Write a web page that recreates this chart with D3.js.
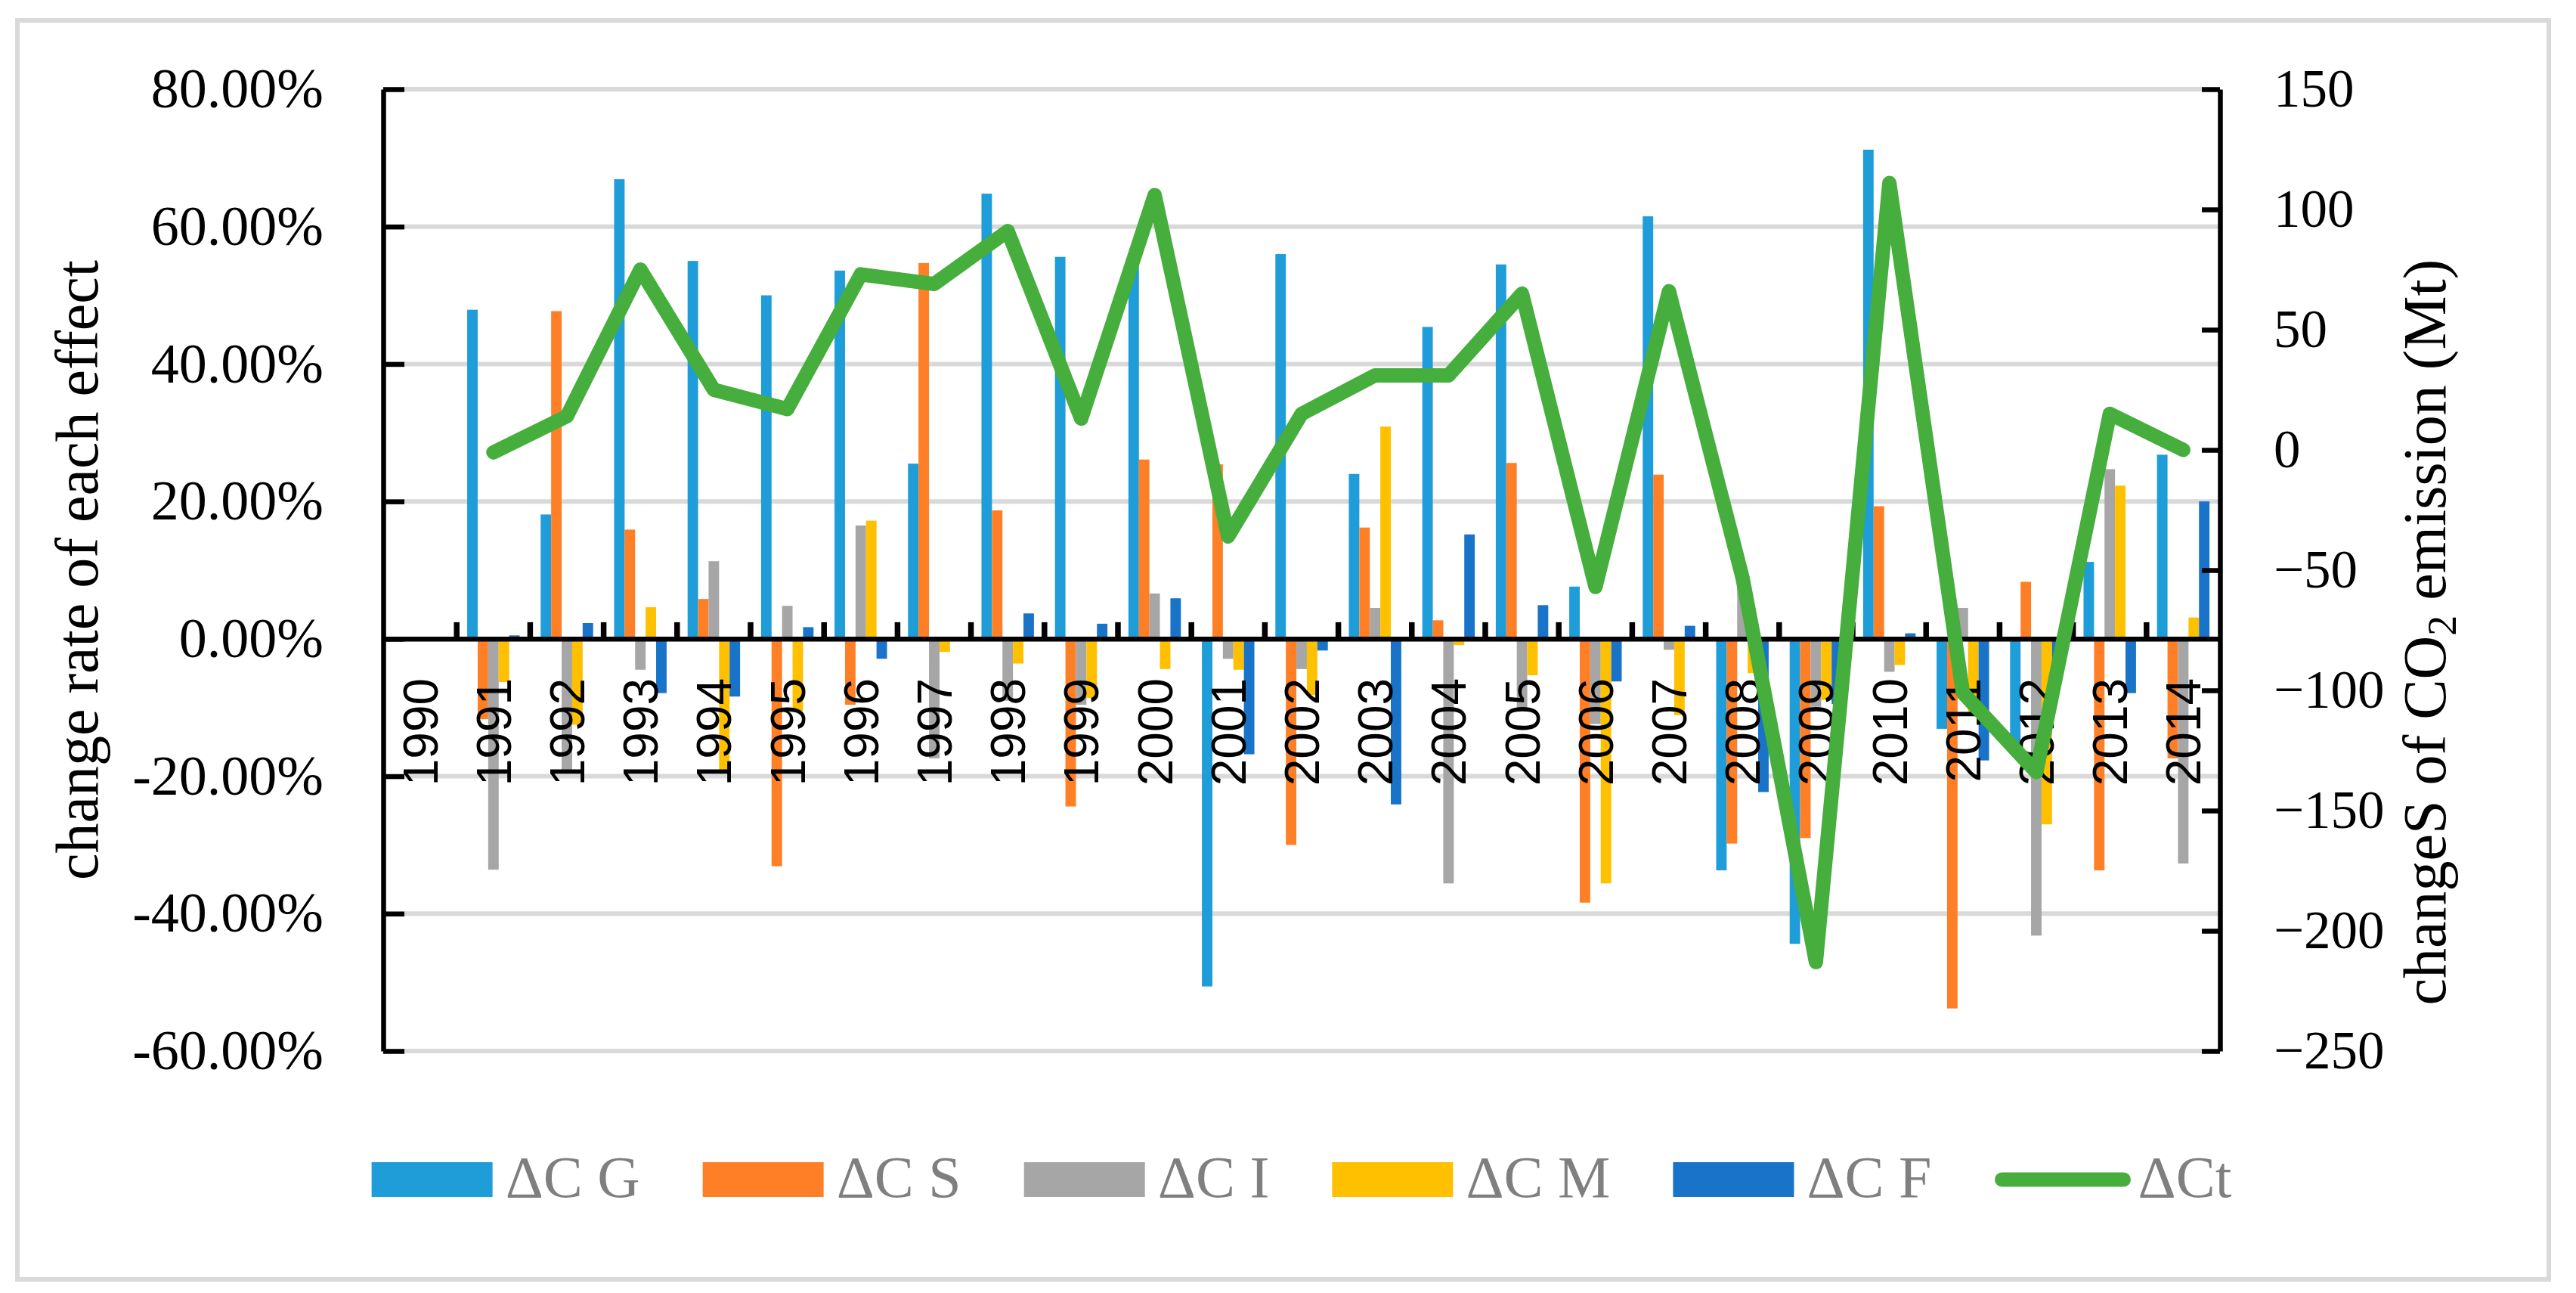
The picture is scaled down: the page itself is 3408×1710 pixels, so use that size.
<!DOCTYPE html>
<html>
<head>
<meta charset="utf-8">
<script src="https://cdn.jsdelivr.net/npm/d3@7"></script>
<style>
  body { margin: 0; background: #fff; }
</style>
</head>
<body>
<svg width="3408" height="1710"></svg>
<script>
// categories
var years = [1990, 1991, 1992, 1993, 1994, 1995, 1996, 1997, 1998, 1999, 2000, 2001, 2002,
             2003, 2004, 2005, 2006, 2007, 2008, 2009, 2010, 2011, 2012, 2013, 2014];

// change rate of each effect (%)
var dCG = [null, 47.9, 18.1, 66.9, 55.0, 50.0, 53.6, 25.5, 64.8, 55.6, 56.0, -50.6, 56.0,
           24.0, 45.4, 54.5, 7.6, 61.5, -33.7, -44.4, 71.2, -13.1, -15.3, 11.2, 26.8];
var dCS = [null, -11.7, 47.7, 15.9, 5.8, -33.1, -9.6, 54.7, 18.7, -24.4, 26.1, 25.4, -30.0,
           16.2, 2.7, 25.6, -38.4, 23.9, -29.8, -29.0, 19.3, -53.8, 8.3, -33.7, -17.4];
var dCI = [null, -33.6, -19.5, -4.5, 11.3, 4.8, 16.5, -17.4, -9.0, -9.6, 6.6, -2.9, -4.4,
           4.5, -35.6, -10.0, -12.4, -1.6, 8.5, -9.9, -4.8, 4.5, -43.2, 24.7, -32.7];
var dCM = [null, -6.3, -12.5, 4.6, -19.5, -10.5, 17.2, -1.9, -3.6, -8.6, -4.4, -4.5, -8.2,
           30.9, -0.9, -5.3, -35.6, -11.1, -5.0, -8.9, -3.8, -11.1, -27.0, 22.3, 3.1];
var dCF = [null, 0.5, 2.3, -7.9, -8.4, 1.7, -2.9, 0, 3.7, 2.2, 5.9, -16.8, -1.7,
           -24.1, 15.2, 4.9, -6.2, 1.9, -22.3, -9.5, 0.8, -17.7, -4.0, -7.9, 20.0];

// changes of CO2 emission (Mt), right axis
var dCt = [null, -1, 14, 75, 25, 17, 73, 69, 91, 13, 106, -36, 15,
           31, 31, 65, -57, 66, -53, -213, 111, -101, -134, 15, 0];

// tick labels
var leftTicks = [-60, -40, -20, 0, 20, 40, 60, 80];
var rightTicks = [-250, -200, -150, -100, -50, 0, 50, 100, 150];

var seriesNames = ["ΔC G", "ΔC S", "ΔC I", "ΔC M", "ΔC F"];
var seriesData = [dCG, dCS, dCI, dCM, dCF];
var colors = ["#1e9dd9", "#ff7f27", "#a6a6a6", "#ffc000", "#1873c9"];
var lineName = "ΔCt", lineColor = "#45ae3d";

function main() {
    var svg = d3.select("svg");
    var plotLeft = 507, plotRight = 2937, plotTop = 118, plotBottom = 1390;
    var serif = "'Liberation Serif', 'Times New Roman', serif";

    // outer frame
    svg.append("rect")
       .attr("x", 23).attr("y", 27)
       .attr("width", 3349).attr("height", 1665)
       .attr("fill", "#fff")
       .attr("stroke", "#d9d9d9")
       .attr("stroke-width", 6);

    var x = d3.scaleBand().domain(years).range([plotLeft, plotRight]);
    var bw = x.bandwidth();
    var x1 = d3.scaleBand().domain(seriesNames).range([bw / 7, bw * 6 / 7]);
    var yL = d3.scaleLinear().domain([-60, 80]).range([plotBottom, plotTop]);
    var yR = d3.scaleLinear().domain([-250, 150]).range([plotBottom, plotTop]);

    // gridlines
    svg.append("g").selectAll("line")
       .data(leftTicks.filter(function(d) { return d !== 0; }))
       .enter().append("line")
       .attr("x1", plotLeft).attr("x2", plotRight)
       .attr("y1", function(d) { return yL(d); })
       .attr("y2", function(d) { return yL(d); })
       .attr("stroke", "#d9d9d9")
       .attr("stroke-width", 6);

    // bars
    seriesNames.forEach(function(name, s) {
        svg.append("g")
           .attr("fill", colors[s])
           .selectAll("rect")
           .data(seriesData[s].map(function(v, i) { return { year: years[i], value: v }; })
                              .filter(function(d) { return d.value !== null; }))
           .enter().append("rect")
           .attr("x", function(d) { return x(d.year) + x1(name); })
           .attr("width", x1.bandwidth())
           .attr("y", function(d) { return yL(Math.max(d.value, 0)); })
           .attr("height", function(d) { return Math.abs(yL(d.value) - yL(0)); });
    });

    // category axis on the zero line
    var xAxis = svg.append("g")
       .attr("transform", "translate(0," + yL(0) + ")")
       .call(d3.axisBottom(x).tickSize(0).tickSizeOuter(0));
    xAxis.select(".domain").attr("stroke", "#000").attr("stroke-width", 6.5);
    xAxis.selectAll("text")
         .attr("transform", "rotate(-90)")
         .attr("x", -52)
         .attr("y", 0)
         .attr("dy", "0.36em")
         .attr("text-anchor", "end")
         .attr("fill", "#000")
         .style("font-family", "'Liberation Sans', Arial, sans-serif")
         .style("font-size", "64px");
    xAxis.selectAll(".boundary")
         .data(years.slice(1))
         .enter().append("line")
         .attr("class", "boundary")
         .attr("x1", function(d) { return x(d); })
         .attr("x2", function(d) { return x(d); })
         .attr("y1", 0).attr("y2", -22)
         .attr("stroke", "#000")
         .attr("stroke-width", 7.5);

    // left axis
    var gL = svg.append("g")
       .attr("transform", "translate(" + plotLeft + ",0)")
       .call(d3.axisLeft(yL).tickValues(leftTicks).tickSize(-28).tickSizeOuter(0).tickPadding(79)
               .tickFormat(function(d) { return d.toFixed(2) + "%"; }));
    gL.select(".domain").attr("stroke", "#000").attr("stroke-width", 6.5);
    gL.selectAll(".tick line").attr("stroke", "#000").attr("stroke-width", 6.5);
    gL.selectAll("text").attr("fill", "#000").style("font-family", serif).style("font-size", "74px");

    // right axis
    var gR = svg.append("g")
       .attr("transform", "translate(" + plotRight + ",0)")
       .call(d3.axisRight(yR).tickValues(rightTicks).tickSize(-24).tickSizeOuter(0).tickPadding(71));
    gR.select(".domain").attr("stroke", "#000").attr("stroke-width", 6.5);
    gR.selectAll(".tick line").attr("stroke", "#000").attr("stroke-width", 6.5);
    gR.selectAll("text").attr("fill", "#000").style("font-family", serif).style("font-size", "71px");

    // total change line
    var line = d3.line()
       .defined(function(d) { return d !== null; })
       .x(function(d, i) { return x(years[i]) + bw / 2; })
       .y(function(d) { return yR(d); });
    svg.append("path")
       .datum(dCt)
       .attr("d", line)
       .attr("fill", "none")
       .attr("stroke", lineColor)
       .attr("stroke-width", 19)
       .attr("stroke-linejoin", "round")
       .attr("stroke-linecap", "round");

    // axis titles
    svg.append("text")
       .attr("transform", "translate(129," + (plotTop + plotBottom) / 2 + ") rotate(-90)")
       .attr("text-anchor", "middle")
       .style("font-family", serif)
       .style("font-size", "80px")
       .text("change rate of each effect");

    var rt = svg.append("text")
       .attr("transform", "translate(3235,836) rotate(-90)")
       .attr("text-anchor", "middle")
       .style("font-family", serif)
       .style("font-size", "80px");
    rt.append("tspan").text("changeS of CO");
    rt.append("tspan").attr("dy", 14).style("font-size", "54px").text("2");
    rt.append("tspan").attr("dy", -14).text(" emission (Mt)");

    // legend
    var legendItems = seriesNames.map(function(n, i) { return { name: n, color: colors[i], type: "bar" }; });
    legendItems.push({ name: lineName, color: lineColor, type: "line" });

    var legend = svg.append("g").attr("transform", "translate(0,1583)");
    var pos = 0;
    legendItems.forEach(function(item) {
        var g = legend.append("g").attr("transform", "translate(" + pos + ",0)");
        var symW;
        if (item.type === "bar") {
            symW = 177;
            g.append("rect").attr("x", 0).attr("y", -46).attr("width", 160).attr("height", 46)
             .attr("fill", item.color);
        } else {
            symW = 190;
            g.append("line").attr("x1", 10).attr("x2", 171).attr("y1", -23).attr("y2", -23)
             .attr("stroke", item.color).attr("stroke-width", 19).attr("stroke-linecap", "round");
        }
        var t = g.append("text")
           .attr("x", symW)
           .attr("fill", "#7f7f7f")
           .style("font-family", serif)
           .style("font-size", "78px")
           .text(item.name);
        pos += symW + t.node().getComputedTextLength() + 83;
    });
    var legendW = pos - 83;
    legend.attr("transform", "translate(" + ((plotLeft + plotRight) / 2 - legendW / 2) + ",1583)");
}
main();
</script>
</body>
</html>
